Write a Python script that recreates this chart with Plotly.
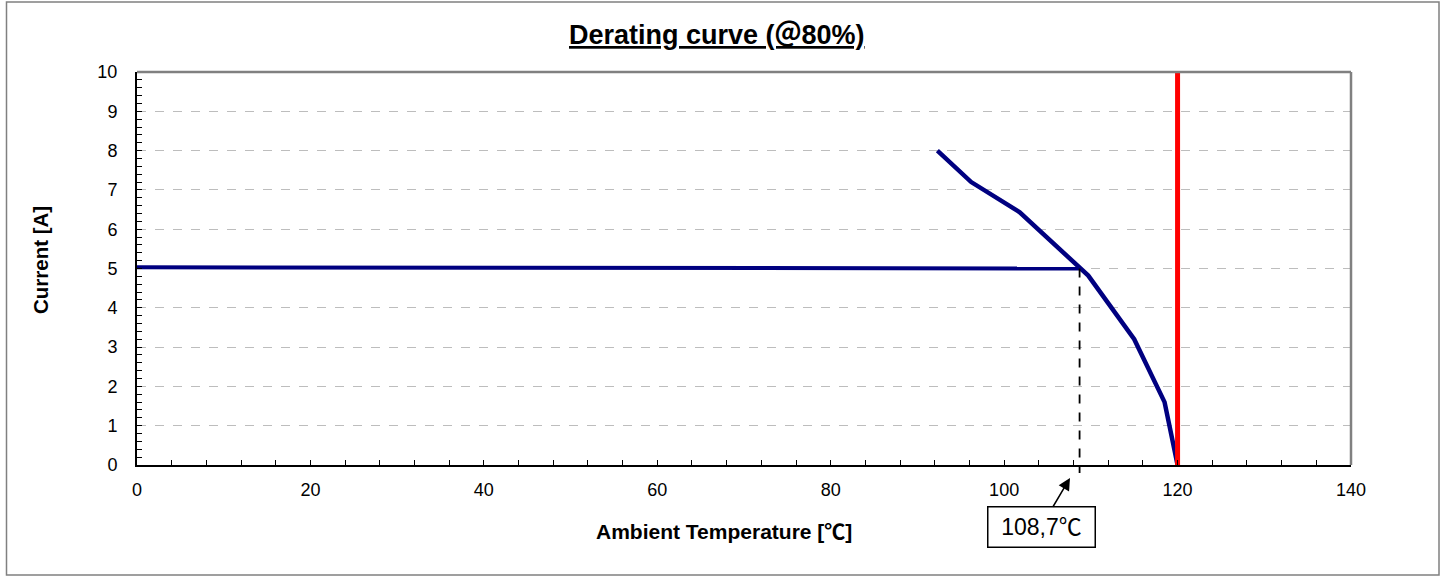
import plotly.graph_objects as go

# ---- data ----
plateau_temp = [0, 108.7]
plateau_current = [5.03, 5.0]

derating_temp = [92.3, 96.2, 101.8, 108.7, 109.7, 115.0, 118.5, 120.0]
derating_current = [8.0, 7.2, 6.43, 5.0, 4.82, 3.2, 1.6, 0.0]

limit_temp = [120, 120]
limit_current = [0, 10]

marker_temp = 108.7
marker_label = "108,7℃"

x_range = [0, 140]
y_range = [0, 10]
x_ticks = [0, 20, 40, 60, 80, 100, 120, 140]
y_ticks = [0, 1, 2, 3, 4, 5, 6, 7, 8, 9, 10]

title_text = "Derating curve (＠80%)"
x_title = "Ambient Temperature [℃]"
y_title = "Current [A]"

FONT = "Liberation Sans, Arial, Noto Sans CJK JP, sans-serif"

W, H = 1445, 576
L, R, T, B = 137, 94, 72, 111
pw = W - L - R
ph = H - T - B

def px_x(px):
    return (px - L) / pw

def px_y(py):
    return (H - B - py) / ph

fig = go.Figure()

fig.add_trace(go.Scatter(x=plateau_temp, y=plateau_current, mode="lines",
                         line=dict(color="#000080", width=4), showlegend=False))
fig.add_trace(go.Scatter(x=derating_temp, y=derating_current, mode="lines",
                         line=dict(color="#000080", width=4.5), showlegend=False))
fig.add_trace(go.Scatter(x=limit_temp, y=limit_current, mode="lines",
                         line=dict(color="#ff0000", width=5), showlegend=False))

axis_common = dict(
    showline=True, linecolor="black", linewidth=2,
    ticks="inside", ticklen=5, tickwidth=1.2, tickcolor="black",
    tickfont=dict(family=FONT, size=18, color="black"),
    zeroline=False,
)

fig.update_xaxes(range=x_range, tickvals=x_ticks, showgrid=False,
                 minor=dict(dtick=4, tick0=0, ticks="inside", ticklen=5, tickcolor="black", tickwidth=1),
                 ticklabelstandoff=7, **axis_common)
fig.update_yaxes(range=y_range, tickvals=y_ticks, showgrid=True,
                 gridcolor="#bdbdbd", griddash="dash", gridwidth=1,
                 minor=dict(dtick=0.2, tick0=0, ticks="inside", ticklen=5, tickcolor="black", tickwidth=1),
                 ticklabelstandoff=14, **axis_common)

shapes = [
    # top and right frame of the plot area (gray)
    dict(type="line", xref="paper", yref="paper", x0=0, x1=1, y0=1, y1=1,
         line=dict(color="#808080", width=2.5)),
    dict(type="line", xref="paper", yref="paper", x0=1, x1=1, y0=0, y1=1,
         line=dict(color="#808080", width=2.5)),
    # outer chart border
    dict(type="rect", xref="paper", yref="paper",
         x0=px_x(6.5), x1=px_x(1439), y0=px_y(575), y1=px_y(2),
         line=dict(color="#808080", width=1.5), layer="below"),
    # dashed drop line at marker temperature
    dict(type="line", xref="x", yref="paper", x0=marker_temp, x1=marker_temp,
         y0=plateau_current[-1] / y_range[1], y1=px_y(473),
         line=dict(color="black", width=1.8, dash="dash")),
]

annotations = [
    dict(text="<u><b>" + title_text + "</b></u>", xref="paper", yref="paper",
         x=px_x(717), y=px_y(35), showarrow=False,
         font=dict(family=FONT, size=27, color="black"), xanchor="center", yanchor="middle"),
    dict(text="<b>" + x_title + "</b>", xref="paper", yref="paper",
         x=px_x(724), y=px_y(531), showarrow=False,
         font=dict(family=FONT, size=21, color="black"), xanchor="center", yanchor="middle"),
    dict(text="<b>" + y_title + "</b>", xref="paper", yref="paper",
         x=px_x(40), y=px_y(260), showarrow=False, textangle=-90,
         font=dict(family=FONT, size=20.5, color="black"), xanchor="center", yanchor="middle"),
    dict(text=marker_label, xref="paper", yref="paper",
         x=px_x(1070), y=px_y(478), ax=-29, ay=49,
         showarrow=True, arrowhead=2, arrowsize=1.6, arrowwidth=1.5, arrowcolor="black",
         font=dict(family=FONT, size=23, color="black"),
         bordercolor="black", borderwidth=1.5, borderpad=3, bgcolor="white",
         width=100, height=33),
]

fig.update_layout(
    width=W, height=H,
    margin=dict(l=L, r=R, t=T, b=B),
    paper_bgcolor="white", plot_bgcolor="white",
    shapes=shapes, annotations=annotations,
    showlegend=False,
)

fig.write_html("out.html")
